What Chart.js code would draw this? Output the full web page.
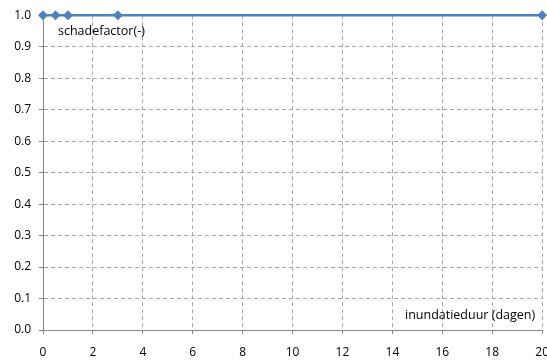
<!DOCTYPE html>
<html>
<head>
<meta charset="utf-8">
<script src="https://cdn.jsdelivr.net/npm/chart.js@4/dist/chart.umd.min.js"></script>
<style>
  html, body { margin: 0; padding: 0; background: #fff; overflow: hidden; }
  #wrap { width: 560px; height: 363px; }
</style>
</head>
<body>
<div id="wrap"><canvas id="c" width="560" height="363"></canvas></div>
<script>
// Inundation duration (days) and the resulting damage factor
const inundatieduur = [0, 0.5, 1, 3, 20];
const schadefactor = [1.0, 1.0, 1.0, 1.0, 1.0];

const xTitle = 'inundatieduur (dagen)';
const yTitle = 'schadefactor(-)';

const FONT = '"Open Sans", "Liberation Sans", sans-serif';

// Axis titles drawn inside the plot area corners
const innerTitles = {
  id: 'innerTitles',
  afterDraw(chart) {
    const { ctx, chartArea } = chart;
    ctx.save();
    ctx.fillStyle = '#000';
    ctx.font = '12.5px ' + FONT;
    ctx.textBaseline = 'middle';
    ctx.textAlign = 'left';
    ctx.fillText(yTitle, chartArea.left + 15, chartArea.top + 16);
    ctx.textAlign = 'right';
    ctx.fillText(xTitle, chartArea.right - 7, chartArea.bottom - 15);
    ctx.restore();
  }
};

const gridColor = '#a6a6a6';
const axisColor = '#868686';

new Chart(document.getElementById('c'), {
  type: 'scatter',
  data: {
    datasets: [{
      data: inundatieduur.map((x, i) => ({ x: x, y: schadefactor[i] })),
      showLine: true,
      borderColor: '#4f81bd',
      backgroundColor: '#4f81bd',
      borderWidth: 2.5,
      pointStyle: 'rectRot',
      pointRadius: 5,
      pointBorderWidth: 0,
      clip: false
    }]
  },
  options: {
    responsive: false,
    animation: false,
    layout: { padding: { left: 0, right: 15, top: 14, bottom: 0 } },
    plugins: { legend: { display: false }, tooltip: { enabled: false } },
    scales: {
      x: {
        type: 'linear',
        min: 0, max: 20,
        afterFit: s => { s.height = 33; },
        ticks: {
          stepSize: 2,
          color: '#000',
          padding: 11,
          maxRotation: 0,
          font: { family: FONT, size: 12 }
        },
        grid: { color: gridColor, lineWidth: 1, tickLength: 4, tickColor: axisColor },
        border: { color: axisColor, width: 1, dash: [4, 3] }
      },
      y: {
        min: 0, max: 1,
        afterFit: s => { s.width = 43; },
        ticks: {
          stepSize: 0.1,
          color: '#000',
          padding: 8,
          font: { family: FONT, size: 12 },
          callback: v => Number(v).toFixed(1)
        },
        grid: { color: gridColor, lineWidth: 1, tickLength: 4, tickColor: axisColor },
        border: { color: axisColor, width: 1, dash: [4, 3] }
      }
    }
  },
  plugins: [innerTitles]
});
</script>
</body>
</html>
